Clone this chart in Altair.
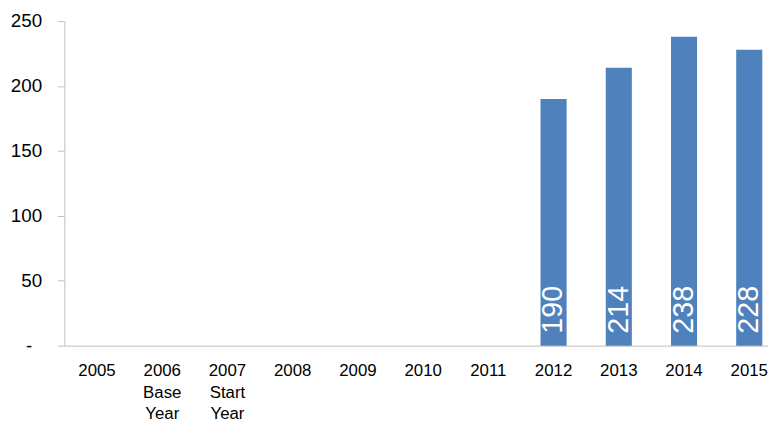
import altair as alt
import pandas as pd

years = ["2005", "2006", "2007", "2008", "2009", "2010", "2011", "2012", "2013", "2014", "2015"]
values = [None, None, None, None, None, None, None, 190, 214, 238, 228]
sub_labels = {"2006": ["Base", "Year"], "2007": ["Start", "Year"]}
y_ticks = [0, 50, 100, 150, 200, 250]

df = pd.DataFrame({"year": years, "value": values})

parts = []
for y, extra in sub_labels.items():
    arr = ",".join(["'" + s + "'" for s in [y] + extra])
    parts.append(f"datum.label == '{y}' ? [{arr}] : ")
label_expr = "".join(parts) + "datum.label"

FONT = "Liberation Sans"

x = alt.X("year:N", sort=years,
          scale=alt.Scale(domain=years, paddingInner=0.6, paddingOuter=0.3, range=[0, 725]),
          axis=alt.Axis(title=None, labelAngle=0, ticks=False, domainColor="#BFBFBF",
                        labelFont=FONT, labelFontSize=17, labelColor="#000000",
                        labelPadding=17, labelLineHeight=22, labelExpr=label_expr,
                        labelBaseline="top"))
yenc = alt.Y("value:Q", scale=alt.Scale(domain=[0, 250], nice=False),
             axis=alt.Axis(title=None, values=y_ticks, grid=False, domainColor="#BFBFBF",
                           tickColor="#BFBFBF", tickSize=7,
                           labelPadding={"condition": {"test": "datum.value == 0", "value": 26},
                                         "value": 16},
                           labelFont=FONT, labelFontSize=19, labelColor="#000000",
                           labelExpr="datum.value == 0 ? '-' : datum.label"))

bars = alt.Chart(df).mark_bar(color="#4F81BD").encode(x=x, y=yenc)
text = alt.Chart(df).transform_filter("datum.value != null").mark_text(
    angle=270, align="left", baseline="middle", dx=12,
    color="white", font=FONT, fontSize=29).encode(
    x=alt.X("year:N", sort=years), y=alt.value(328), text=alt.Text("value:Q"))

chart = (bars + text).properties(
    width=711, height=328,
    autosize=alt.AutoSizeParams(type="none"),
    padding={"left": 57, "top": 11, "right": 0, "bottom": 79},
    background="white",
).configure_view(stroke=None)

chart.save("out.html", embed_options={"renderer": "svg", "actions": False})
